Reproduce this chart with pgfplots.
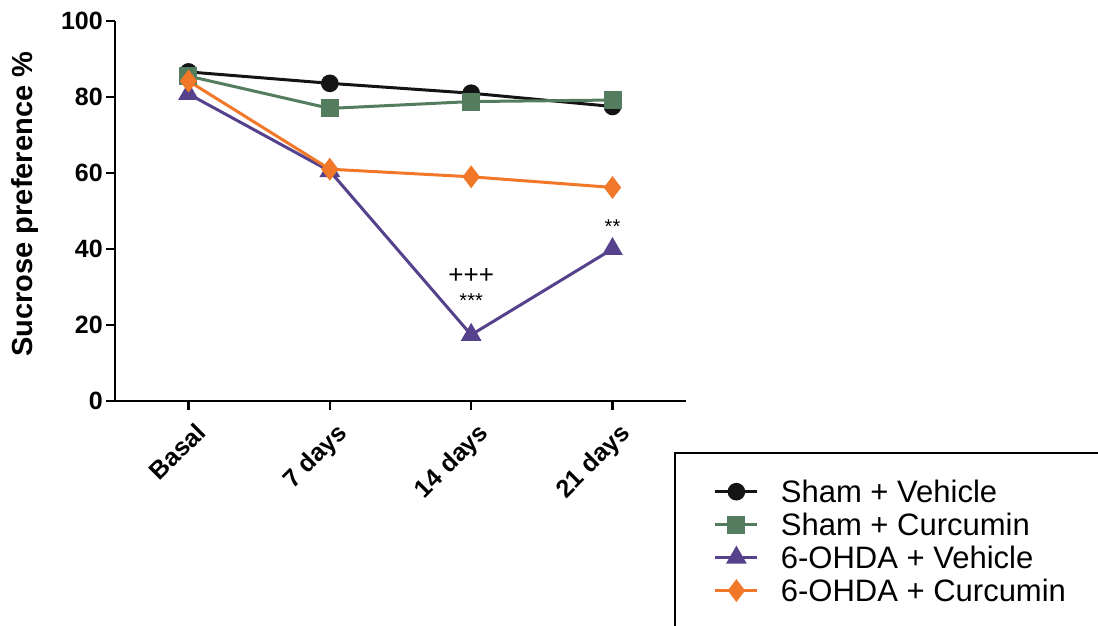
\documentclass[border=0pt]{standalone}
\usepackage{pgfplots}
\pgfplotsset{compat=1.18}
\usepackage{fontspec}
\setmainfont{Liberation Sans}
\definecolor{cblack}{RGB}{20,20,20}
\definecolor{cgreen}{RGB}{84,125,95}
\definecolor{cpurple}{RGB}{85,65,140}
\definecolor{corange}{RGB}{240,120,40}
\begin{document}
\begin{tikzpicture}[x=1pt,y=1pt]
\path[use as bounding box] (0,0) rectangle (1098,626);
\begin{axis}[
  at={(115pt,225pt)}, anchor=south west,
  scale only axis, width=571pt, height=380pt,
  xmin=-0.52, xmax=3.52, ymin=0, ymax=100,
  axis lines=left, axis line style={line width=2.6pt,-},
  xtick={0,1,2,3}, xticklabels={Basal,7 days,14 days,21 days},
  ytick={0,20,40,60,80,100},
  tick style={line width=2.6pt,black},
  major tick length=9pt,
  tick align=outside,
  /pgf/number format/assume math mode=true,
  ticklabel style={font=\fontsize{25}{28}\selectfont\bfseries},
  xticklabel style={rotate=45, anchor=north east, inner sep=2pt, yshift=-10pt, xshift=-2pt},
  yticklabel style={inner sep=3pt},
  ylabel={Sucrose preference \%},
  ylabel style={font=\fontsize{29}{32}\selectfont\bfseries, at={(axis description cs:-0.158,0.518)}, anchor=center, rotate=0},
  legend style={draw=none, fill=none, at={(axis description cs:1.0485,-0.204)}, anchor=north west,
    font=\fontsize{31}{32}\selectfont, inner sep=0pt, row sep=7pt,
    nodes={inner ysep=1pt}},
  legend cell align=left,
  legend image code/.code={\draw[mark repeat=2,mark phase=2,#1] plot coordinates {(0pt,0pt)(21pt,0pt)(42pt,0pt)};\path (62pt,0pt);},
  every axis plot/.append style={line width=3pt},
  clip=false,
]
\addplot[cblack, mark=*, mark size=7.3pt, mark options={solid}] coordinates {(0,86.6) (1,83.6) (2,81.0) (3,77.5)};
\addlegendentry{Sham + Vehicle}
\addplot[cgreen, mark=square*, mark size=7.5pt] coordinates {(0,85.5) (1,77.0) (2,78.8) (3,79.2)};
\addlegendentry{Sham + Curcumin}
\addplot[cpurple, mark=triangle*, mark size=9pt] coordinates {(0,80.8) (1,60.5) (2,17.4) (3,40.0)};
\addlegendentry{6-OHDA + Vehicle}
\addplot[corange, mark=diamond*, mark size=9pt] coordinates {(0,84.2) (1,61.0) (2,59.0) (3,56.2)};
\addlegendentry{6-OHDA + Curcumin}
\node[font=\fontsize{26}{28}\selectfont] at (axis cs:2,33.0) {+++};
\node[font=\fontsize{20}{22}\selectfont] at (axis cs:2,26.5) {***};
\node[font=\fontsize{20}{22}\selectfont] at (axis cs:3,46.0) {**};
\end{axis}
\draw[line width=1.5pt] (1110,173) -- (675,173) -- (675,-10);
\end{tikzpicture}
\end{document}
